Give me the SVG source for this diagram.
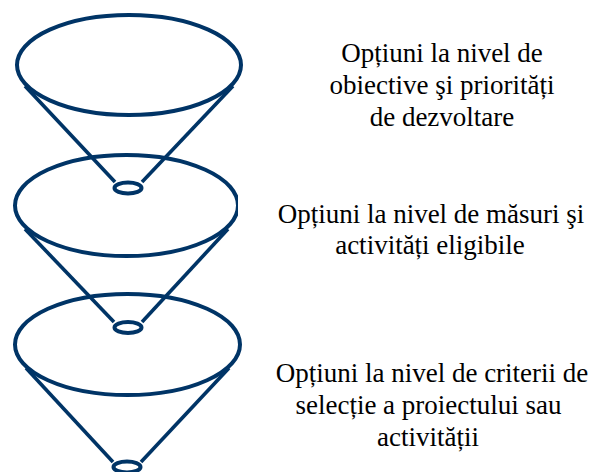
<svg xmlns="http://www.w3.org/2000/svg" width="594" height="472" viewBox="0 0 594 472">
<style>
.e{fill:none;stroke:#003466;stroke-width:4}
.l{fill:none;stroke:#003466;stroke-width:3.6}
.t{font-family:'Times New Roman',Times,'Liberation Serif','DejaVu Serif','Noto Serif',serif;font-size:27px;fill:#000;text-anchor:middle}
</style>
<defs>
<clipPath id="clipMid"><rect x="0" y="0" width="238" height="472"/></clipPath>
</defs>
<rect width="594" height="472" fill="#fff"/>
<g id="cone1">
<ellipse class="e" cx="129" cy="65" rx="112" ry="50"/>
<line class="l" x1="25" y1="86" x2="115" y2="182"/>
<line class="l" x1="233" y1="86" x2="142" y2="182"/>
<ellipse class="e" cx="128" cy="188" rx="13.5" ry="5.5"/>
</g>
<g id="cone2">
<ellipse class="e" cx="126.5" cy="205.5" rx="111.5" ry="50.5" clip-path="url(#clipMid)"/>
<line class="l" x1="25" y1="229" x2="114" y2="322"/>
<line class="l" x1="228" y1="229" x2="142" y2="322"/>
<ellipse class="e" cx="128" cy="327.5" rx="13.5" ry="5.5"/>
</g>
<g id="cone3">
<ellipse class="e" cx="127.5" cy="344.5" rx="112.5" ry="50.5"/>
<line class="l" x1="26" y1="368" x2="113" y2="462"/>
<line class="l" x1="229" y1="368" x2="141" y2="462"/>
<ellipse class="e" cx="127" cy="467" rx="13.5" ry="5.5"/>
</g>
<g id="label1">
<text class="t" x="442" y="62">Opțiuni la nivel de</text>
<text class="t" x="442" y="94">obiective şi priorități</text>
<text class="t" x="442" y="126">de dezvoltare</text>
</g>
<g id="label2">
<text class="t" x="431" y="223">Opțiuni la nivel de măsuri şi</text>
<text class="t" x="430" y="254">activități eligibile</text>
</g>
<g id="label3">
<text class="t" x="432" y="382">Opțiuni la nivel de criterii de</text>
<text class="t" x="428.5" y="414">selecție a proiectului sau</text>
<text class="t" x="428" y="446">activității</text>
</g>
</svg>
